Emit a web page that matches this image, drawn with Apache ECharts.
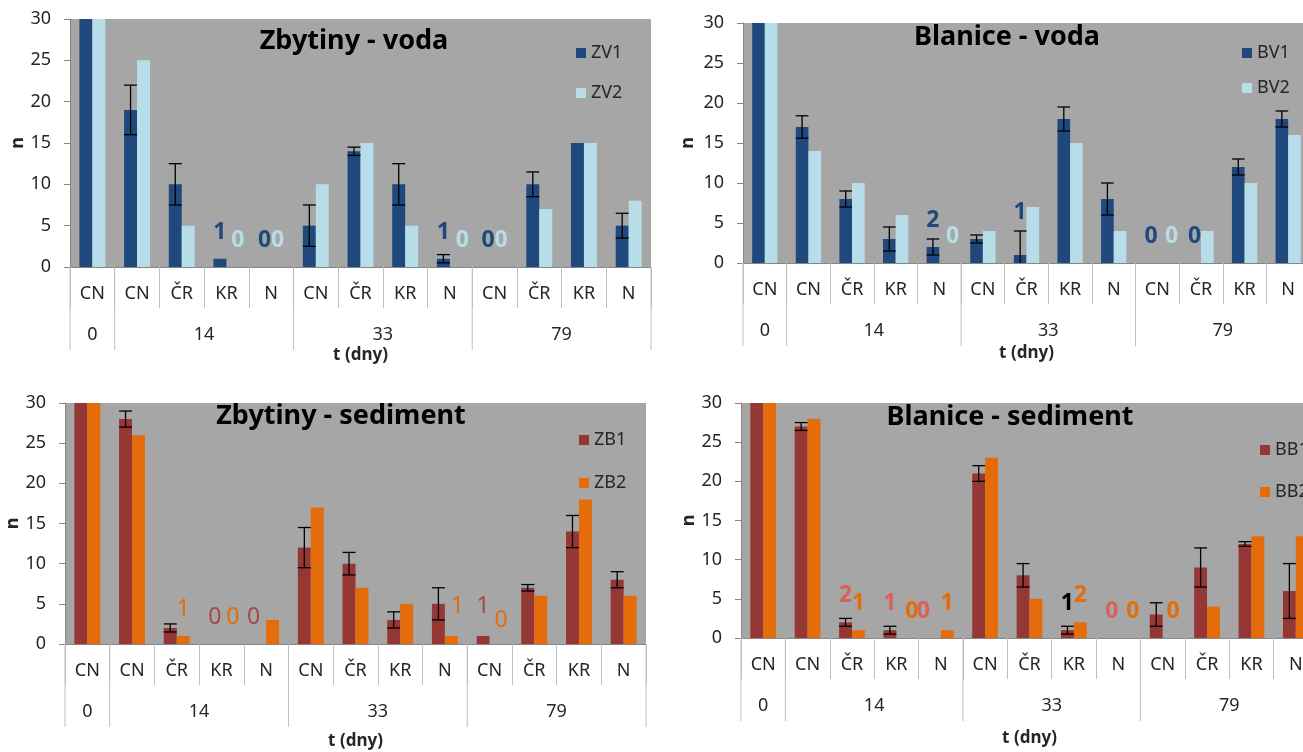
<!DOCTYPE html>
<html>
<head>
<meta charset="utf-8">
<script src="https://cdn.jsdelivr.net/npm/echarts@6/dist/echarts.min.js"></script>
<style>
html,body{margin:0;padding:0;background:#fff;overflow:hidden;width:1303px;height:752px;}
#chart{width:1330px;height:752px;}
</style>
</head>
<body>
<div id="chart"></div>
<script>
// ---- categories / tick labels ----
const subCats = ['CN','CN','ČR','KR','N','CN','ČR','KR','N','CN','ČR','KR','N'];
const dayGroups = ['0','14','33','79'];
const groupSizes = [1,4,4,4];
const yMin = 0, yMax = 30, yStep = 5;
const xTitle = 't (dny)';
const yTitle = 'n';

// ---- Zbytiny - voda ----
const zv1 = [30,19,10,1,0,5,14,10,1,0,10,15,5];
const zv1Err = [null,3,2.5,null,null,2.5,0.5,2.5,0.5,null,1.5,null,1.5];
const zv2 = [30,25,5,0,0,10,15,5,0,0,7,15,8];
// ---- Blanice - voda ----
const bv1 = [30,17,8,3,2,3,1,18,8,0,0,12,18];
const bv1Err = [null,1.4,1,1.5,1,0.5,3,1.5,2,null,null,1,1];
const bv2 = [30,14,10,6,0,4,7,15,4,0,4,10,16];
// ---- Zbytiny - sediment ----
const zb1 = [30,28,2,0,0,12,10,3,5,1,7,14,8];
const zb1Err = [null,1,0.5,null,null,2.5,1.4,1,2,null,0.4,2,1];
const zb2 = [30,26,1,0,3,17,7,5,1,0,6,18,6];
// ---- Blanice - sediment ----
const bb1 = [30,27,2,1,0,21,8,1,0,3,9,12,6];
const bb1Err = [null,0.5,0.5,0.5,null,1,1.5,0.5,null,1.5,2.5,0.3,3.5];
const bb2 = [30,28,1,0,1,23,5,2,0,0,4,13,13];

// ---- styling / placement (not data) ----
const C = {dblue:'#1F497D', lblue:'#B7DEE8', dred:'#953735', orange:'#E46C0A', bg:'#A6A6A6', axis:'#868686', sep:'#BFBFBF', text:'#262626'};
const FONT = 'Noto Sans';
// which bars carry a value label, with small manual offsets [dx,dy] and colour
const labZV1 = {3:[0,0],4:[0,0],8:[0,0],9:[0,0]};
const labZV2 = {3:[5,0],4:[0,0],8:[6,0],9:[0,0]};
const labBV1 = {4:[0,0],6:[0,-16],9:[0,0],10:[0,0]};
const labBV2 = {4:[7,0],9:[8,0]};
const labZB1 = {3:[0,0],4:[-6,0],9:[0,-3]};
const labZB2 = {2:[0,0],3:[5,0],8:[6,-3],9:[5,3]};
const labBB1 = {2:[0,0],3:[0,0],4:[-11,0],7:[0,0,'#000'],8:[0,0]};
const labBB2 = {2:[0,0],3:[9,0],4:[0,0],7:[0,0],8:[8,0],9:[4,0]};

const panels = [
  {title:'Zbytiny - voda', names:['ZV1','ZV2'], d1:zv1, e1:zv1Err, d2:zv2, l1:labZV1, l2:labZV2,
   c1:C.dblue, c2:C.lblue, lc1:C.dblue, lc2:C.lblue, bold:'bold',
   grid:{left:70, top:19, width:581, height:248}, tx:354, ty:41, lx:571, ly:38, lgap:20, nameGap:80, yNameGap:42},
  {title:'Blanice - voda', names:['BV1','BV2'], d1:bv1, e1:bv1Err, d2:bv2, l1:labBV1, l2:labBV2,
   c1:C.dblue, c2:C.lblue, lc1:C.dblue, lc2:C.lblue, bold:'bold',
   grid:{left:743, top:23, width:567, height:240}, tx:1007, ty:37, lx:1237, ly:38, lgap:15, nameGap:82, yNameGap:46},
  {title:'Zbytiny - sediment', names:['ZB1','ZB2'], d1:zb1, e1:zb1Err, d2:zb2, l1:labZB1, l2:labZB2,
   c1:C.dred, c2:C.orange, lc1:'#A0494A', lc2:C.orange, bold:'normal',
   grid:{left:65, top:403, width:581, height:241}, tx:341, ty:416, lx:574, ly:425, lgap:23, nameGap:89, yNameGap:40},
  {title:'Blanice - sediment', names:['BB1','BB2'], d1:bb1, e1:bb1Err, d2:bb2, l1:labBB1, l2:labBB2,
   c1:C.dred, c2:C.orange, lc1:'#D9605B', lc2:C.orange, bold:'bold',
   grid:{left:741, top:403, width:577, height:235}, tx:1010, ty:417, lx:1255, ly:435, lgap:22, nameGap:92, yNameGap:42}
];

const CAT_ROW = 41, GROUP_ROW = 83, GROUP_LABEL = 68;
const GAP = 0.42; // barCategoryGap fraction

function withLabels(values, lab, color, weight) {
  return values.map((v, i) => {
    const t = lab[i];
    if (!t) return v;
    return {value: v, label: {show: true, position: 'top', distance: 15,
      offset: [t[0], t[1]], color: t[2] || color, fontSize: 23, fontWeight: weight, fontFamily: FONT}};
  });
}

function errRender(params, api) {
  const idx = api.value(0), v = api.value(1), e = api.value(2);
  const band = api.size([1, 0])[0];
  const bw = band * (1 - GAP) / 2;
  const x = api.coord([idx, v])[0] - bw / 2;
  const lo = v - e;
  const yTop = api.coord([idx, v + e])[1];
  const yBot = api.coord([idx, Math.max(0, lo)])[1];
  const st = {stroke: '#000', lineWidth: 1.3};
  const ch = [
    {type:'line', shape:{x1:x, y1:yTop, x2:x, y2:yBot}, style:st},
    {type:'line', shape:{x1:x-bw/2, y1:yTop, x2:x+bw/2, y2:yTop}, style:st}
  ];
  if (lo > 0) ch.push({type:'line', shape:{x1:x-bw/2, y1:yBot, x2:x+bw/2, y2:yBot}, style:st});
  return {type:'group', children: ch};
}

const option = {
  animation: false,
  textStyle: {fontFamily: FONT},
  grid: [], xAxis: [], yAxis: [], series: [], legend: [], graphic: []
};

panels.forEach((p, gi) => {
  const g = p.grid;
  option.grid.push({left:g.left, top:g.top, width:g.width, height:g.height, show:true, backgroundColor:C.bg, borderWidth:0, containLabel:false});
  option.xAxis.push({type:'category', gridIndex:gi, data:subCats,
    axisLine:{show:true, lineStyle:{color:C.axis, width:1}},
    axisTick:{show:true, interval:0, length:CAT_ROW, lineStyle:{color:C.sep}},
    axisLabel:{interval:0, margin:18, fontSize:18, color:C.text, fontFamily:FONT},
    name:xTitle, nameLocation:'middle', nameGap:p.nameGap,
    nameTextStyle:{fontSize:17, fontWeight:'bold', color:C.text, fontFamily:FONT}});
  option.yAxis.push({type:'value', gridIndex:gi, min:yMin, max:yMax, interval:yStep,
    axisLine:{show:true, lineStyle:{color:C.axis}},
    axisTick:{show:true, length:6, lineStyle:{color:C.axis}},
    splitLine:{show:false},
    axisLabel:{fontSize:18, color:C.text, margin:19, fontFamily:FONT},
    name:yTitle, nameLocation:'middle', nameGap:p.yNameGap, nameRotate:90,
    nameTextStyle:{fontSize:18, fontWeight:'bold', color:C.text, fontFamily:FONT}});
  const common = {type:'bar', xAxisIndex:gi, yAxisIndex:gi, barGap:'0%', barCategoryGap:(GAP*100)+'%'};
  option.series.push(Object.assign({}, common, {name:p.names[0], itemStyle:{color:p.c1}, data:withLabels(p.d1, p.l1, p.lc1, p.bold)}));
  option.series.push(Object.assign({}, common, {name:p.names[1], itemStyle:{color:p.c2}, data:withLabels(p.d2, p.l2, p.lc2, p.bold)}));
  option.series.push({type:'custom', xAxisIndex:gi, yAxisIndex:gi, renderItem:errRender, clip:true, z:5,
    encode:{x:0, y:1}, silent:true,
    data:p.e1.map((e, i) => e == null ? null : [i, p.d1[i], e]).filter(d => d)});
  option.legend.push({data:p.names, orient:'vertical', left:p.lx, top:p.ly, itemWidth:10, itemHeight:10,
    itemGap:p.lgap, icon:'rect', selectedMode:false,
    textStyle:{fontSize:18, color:C.text, fontFamily:FONT, lineHeight:20}});
  // title
  option.graphic.push({type:'text', x:p.tx, y:p.ty, z:10,
    style:{text:p.title, x:0, y:0, align:'center', verticalAlign:'middle', fill:'#000', font:'bold 27px "'+FONT+'"'}});
  // group separators and labels
  const cw = g.width / subCats.length;
  const yAx = g.top + g.height;
  let acc = 0;
  const bounds = [0];
  groupSizes.forEach(s => { acc += s; bounds.push(acc); });
  bounds.forEach(b => {
    option.graphic.push({type:'line', z:3, shape:{x1:g.left + b*cw, y1:yAx, x2:g.left + b*cw, y2:yAx + GROUP_ROW},
      style:{stroke:C.sep, lineWidth:1}});
  });
  dayGroups.forEach((lab, k) => {
    const cx = g.left + (bounds[k] + bounds[k+1]) / 2 * cw;
    option.graphic.push({type:'text', x:cx, y:yAx + GROUP_LABEL, z:3,
      style:{text:lab, align:'center', verticalAlign:'middle', fill:C.text, font:'18px "'+FONT+'"'}});
  });
});

const chart = echarts.init(document.getElementById('chart'), null, {renderer:'canvas'});
chart.setOption(option);
</script>
</body>
</html>
